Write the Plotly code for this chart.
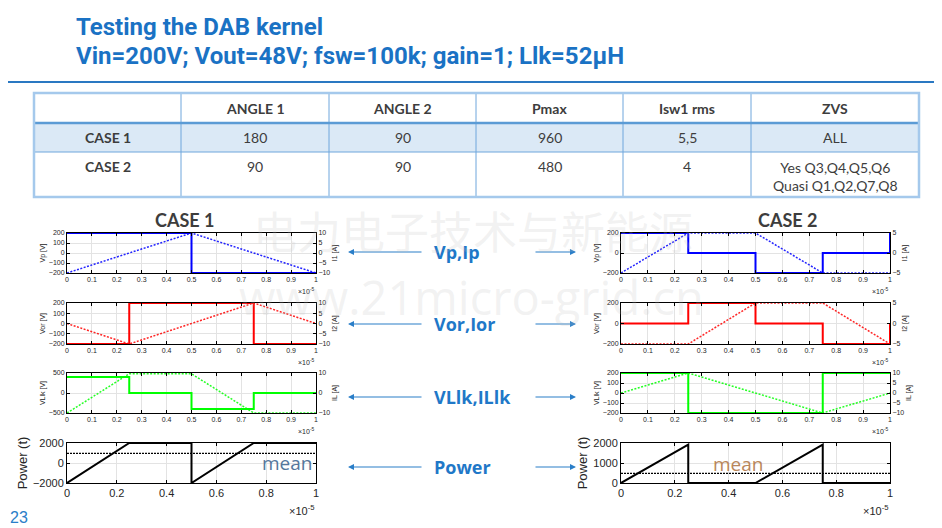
import plotly.graph_objects as go

# ---- data (time in units of 1e-5 s) ----
# CASE 1
t1_vp = [0, 0.5, 0.5, 1]
c1_vp = [200, 200, -200, -200]
t1_ip = [0, 0.5, 1]
c1_ip = [-10, 10, -10]
t1_vor = [0, 0.25, 0.25, 0.75, 0.75, 1]
c1_vor = [-200, -200, 200, 200, -200, -200]
t1_ior = [0, 0.25, 0.75, 1]
c1_ior = [0, -10, 10, 0]
t1_vl = [0, 0.25, 0.25, 0.5, 0.5, 0.75, 0.75, 1]
c1_vl = [400, 400, 0, 0, -400, -400, 0, 0]
t1_il = [0, 0.25, 0.5, 0.75, 1]
c1_il = [-10, 9.6, 9.6, -10, -10]
t1_p = [0, 0.25, 0.5, 0.5, 0.75, 1]
c1_p = [-2000, 2000, 2000, -2000, 2000, 2000]
c1_mean = 960

# CASE 2
t2_vp = [0, 0.25, 0.25, 0.5, 0.5, 0.75, 0.75, 1, 1]
c2_vp = [200, 200, 0, 0, -200, -200, 0, 0, 200]
t2_ip = [0, 0.25, 0.5, 0.75, 1]
c2_ip = [-5, 5, 5, -5, -5]
t2_vor = [0, 0.25, 0.25, 0.5, 0.5, 0.75, 0.75, 1, 1]
c2_vor = [0, 0, 200, 200, 0, 0, -200, -200, 0]
t2_ior = [0, 0.25, 0.5, 0.75, 1]
c2_ior = [-5, -5, 5, 5, -5]
t2_vl = [0, 0.25, 0.25, 0.75, 0.75, 1]
c2_vl = [200, 200, -200, -200, 200, 200]
t2_il = [0, 0.25, 0.75, 1]
c2_il = [0, 10, -10, 0]
t2_p = [0, 0.25, 0.25, 0.5, 0.75, 0.75, 1]
c2_p = [0, 1920, 0, 0, 1920, 0, 0]
c2_mean = 480

# table
table_cols = ["", "ANGLE 1", "ANGLE 2", "Pmax", "Isw1 rms", "ZVS"]
case_names = ["CASE 1", "CASE 2"]
angle1 = ["180", "90"]
angle2 = ["90", "90"]
pmax = ["960", "480"]
isw1_rms = ["5,5", "4"]
zvs = ["ALL", "Yes Q3,Q4,Q5,Q6<br>Quasi Q1,Q2,Q7,Q8"]

signal_labels = ["Vp,Ip", "Vor,Ior", "VLlk,ILlk", "Power"]

W, H = 942, 528
OFF = 8  # page margin of the html body
BLUE = "#1a72c4"
GRID = "#e3e3e3"
TICKC = "#262626"


def fx(x):
    return (x - OFF) / W


def fy(y):
    return 1 - (y - OFF) / H


def note(x, y, text, size, color, family, xa="center", ya="middle"):
    return dict(x=fx(x), y=fy(y), xref="paper", yref="paper", xanchor=xa, yanchor=ya,
                showarrow=False, text=text, font=dict(size=size, color=color, family=family))


COLS = {"left": (67, 316), "right": (621, 890)}
ROWS = [(233, 273), (303, 344), (373, 413), (443, 483)]

panels = [
    dict(col="left", row=0, t=t1_vp, v=c1_vp, td=t1_ip, vd=c1_ip, color="#0000ff",
         yr=[-200, 200], yt=[-200, -100, 0, 100, 200], y2r=[-10, 10], y2t=[-10, -5, 0, 5, 10],
         ytitle="Vp [V]", y2title="I1 [A]"),
    dict(col="left", row=1, t=t1_vor, v=c1_vor, td=t1_ior, vd=c1_ior, color="#ff0000",
         yr=[-200, 200], yt=[-200, -100, 0, 100, 200], y2r=[-10, 10], y2t=[-10, -5, 0, 5, 10],
         ytitle="Vor [V]", y2title="I2 [A]"),
    dict(col="left", row=2, t=t1_vl, v=c1_vl, td=t1_il, vd=c1_il, color="#00ff00",
         yr=[-500, 500], yt=[-500, 0, 500], y2r=[-10, 10], y2t=[-10, 0, 10],
         ytitle="VLlk [V]", y2title="IL [A]"),
    dict(col="left", row=3, t=t1_p, v=c1_p, mean=c1_mean, color="#000000",
         yr=[-2000, 2000], yt=[-2000, 0, 2000], ytitle="Power (t)"),
    dict(col="right", row=0, t=t2_vp, v=c2_vp, td=t2_ip, vd=c2_ip, color="#0000ff",
         yr=[-200, 200], yt=[-200, 0, 200], y2r=[-5, 5], y2t=[-5, 0, 5],
         ytitle="Vp [V]", y2title="I1 [A]"),
    dict(col="right", row=1, t=t2_vor, v=c2_vor, td=t2_ior, vd=c2_ior, color="#ff0000",
         yr=[-200, 200], yt=[-200, 0, 200], y2r=[-5, 5], y2t=[-5, 0, 5],
         ytitle="Vor [V]", y2title="I2 [A]"),
    dict(col="right", row=2, t=t2_vl, v=c2_vl, td=t2_il, vd=c2_il, color="#00ff00",
         yr=[-200, 200], yt=[-200, -100, 0, 100, 200], y2r=[-10, 10], y2t=[-10, -5, 0, 5, 10],
         ytitle="VLlk [V]", y2title="IL [A]"),
    dict(col="right", row=3, t=t2_p, v=c2_p, mean=c2_mean, color="#000000",
         yr=[0, 2000], yt=[0, 1000, 2000], ytitle="Power (t)"),
]

fig = go.Figure()
layout = {}
annotations = []
shapes = []

for i, p in enumerate(panels):
    k = i + 1
    xa = "x" if k == 1 else f"x{k}"
    ya1 = 2 * k - 1
    ya2 = 2 * k
    ya1_ref = "y" if ya1 == 1 else f"y{ya1}"
    x0, x1 = COLS[p["col"]]
    y0, y1 = ROWS[p["row"]]
    power = p["row"] == 3
    tf = 11 if power else 7
    fig.add_trace(go.Scatter(x=p["t"], y=p["v"], mode="lines", xaxis=xa, yaxis=ya1_ref,
                             line=dict(color=p["color"], width=2), showlegend=False))
    if power:
        fig.add_trace(go.Scatter(x=[0, 1], y=[p["mean"], p["mean"]], mode="lines",
                                 xaxis=xa, yaxis=ya1_ref, showlegend=False,
                                 line=dict(color="#000000", width=1.4, dash="2px,1px")))
    else:
        fig.add_trace(go.Scatter(x=p["td"], y=p["vd"], mode="lines", xaxis=xa,
                                 yaxis=f"y{ya2}", showlegend=False, opacity=0.85,
                                 line=dict(color=p["color"], width=1.5, dash="2px,1.5px")))
    xname = "xaxis" if k == 1 else f"xaxis{k}"
    xt = [0, 0.2, 0.4, 0.6, 0.8, 1] if power else [round(0.1 * j, 1) for j in range(11)]
    layout[xname] = dict(domain=[fx(x0), fx(x1)], anchor=ya1_ref, range=[0, 1],
                         automargin=False,
                         tickvals=xt, ticktext=[f"{v:g}" for v in xt],
                         showgrid=True, gridcolor=GRID, zeroline=False,
                         showline=True, linecolor="#000000", linewidth=1, mirror="ticks",
                         ticks="inside", ticklen=3, tickcolor="#000000",
                         tickfont=dict(size=tf, color=TICKC, family="Liberation Sans"))
    yname = "yaxis" if ya1 == 1 else f"yaxis{ya1}"
    layout[yname] = dict(domain=[fy(y1), fy(y0)], anchor=xa, range=p["yr"], tickvals=p["yt"],
                         automargin=False,
                         showgrid=True, gridcolor=GRID, zeroline=False,
                         showline=True, linecolor="#000000", linewidth=1,
                         mirror="ticks" if power else True,
                         ticks="inside", ticklen=3, tickcolor="#000000",
                         tickfont=dict(size=tf, color=TICKC, family="Liberation Sans"),
                         title=dict(text=p["ytitle"], standoff=2,
                                    font=dict(size=13 if power else 7, color=TICKC,
                                              family="Liberation Sans")))
    if not power:
        layout[f"yaxis{ya2}"] = dict(overlaying=ya1_ref, side="right", anchor=xa,
                                     automargin=False,
                                     range=p["y2r"], tickvals=p["y2t"], showgrid=False,
                                     zeroline=False, showline=True, linecolor="#000000",
                                     ticks="inside", ticklen=3, tickcolor="#000000",
                                     tickfont=dict(size=7, color=TICKC, family="Liberation Sans"),
                                     title=dict(text=p["y2title"], standoff=2,
                                                font=dict(size=7, color=TICKC,
                                                          family="Liberation Sans")))
    # x exponent label
    off = 27 if power else 18
    annotations.append(note(x1 + 1, y1 + off, "×10<sup>-5</sup>", 11 if power else 7,
                            TICKC, "Liberation Sans", xa="right"))

# "mean" labels
annotations.append(note(260, 463, "mean", 19, "#55779c", "Open Sans", xa="left"))
annotations.append(note(711, 464, "mean", 19, "#b9865a", "Open Sans", xa="left"))

# titles
annotations.append(note(74, 27, "<b>Testing the DAB kernel</b>", 24, BLUE,
                        "Liberation Sans Narrow, Roboto", xa="left"))
annotations.append(note(74, 56, "<b>Vin=200V; Vout=48V; fsw=100k; gain=1; Llk=52μH</b>", 24,
                        BLUE, "Liberation Sans Narrow, Roboto", xa="left"))
shapes.append(dict(type="line", xref="paper", yref="paper", x0=0, x1=1, y0=fy(82), y1=fy(82),
                   line=dict(color="#2a78c2", width=2)))

# table
col_edges = [34, 181, 329, 476, 623, 751, 919]
row_edges = [93, 123, 152, 197]
shapes.append(dict(type="rect", xref="paper", yref="paper", x0=fx(34), x1=fx(919),
                   y0=fy(152), y1=fy(123), fillcolor="#dbe9f6", line=dict(width=0), layer="below"))
for xe in col_edges[1:-1]:
    shapes.append(dict(type="line", xref="paper", yref="paper", x0=fx(xe), x1=fx(xe),
                       y0=fy(197), y1=fy(93), line=dict(color="#6fa6dc", width=1)))
shapes.append(dict(type="line", xref="paper", yref="paper", x0=fx(34), x1=fx(919),
                   y0=fy(123), y1=fy(123), line=dict(color="#5b9bd5", width=2.5)))
shapes.append(dict(type="line", xref="paper", yref="paper", x0=fx(34), x1=fx(919),
                   y0=fy(152), y1=fy(152), line=dict(color="#6fa6dc", width=1)))
shapes.append(dict(type="rect", xref="paper", yref="paper", x0=fx(34), x1=fx(919),
                   y0=fy(197), y1=fy(93), line=dict(color="#a5c9ec", width=2.5)))

TXT = "#3d3d3d"
for j, name in enumerate(table_cols):
    if name:
        xc = (col_edges[j] + col_edges[j + 1]) / 2
        annotations.append(note(xc, 108, f"<b>{name}</b>", 14, TXT, "Lato"))
row_vals = [angle1, angle2, pmax, isw1_rms, zvs]
for r, cname in enumerate(case_names):
    yc = 137 if r == 0 else 166
    annotations.append(note((col_edges[0] + col_edges[1]) / 2, yc, f"<b>{cname}</b>", 14,
                            TXT, "Lato"))
    for j, vals in enumerate(row_vals):
        xc = (col_edges[j + 1] + col_edges[j + 2]) / 2
        txt = vals[r]
        if "<br>" in txt:
            annotations.append(note(xc, yc - 9, txt, 14, TXT, "Lato", ya="top"))
        else:
            annotations.append(note(xc, yc, txt, 14, TXT, "Lato"))

# case headers
annotations.append(note(184, 220, "<b>CASE 1</b>", 18, "#3d3d3d", "Lato"))
annotations.append(note(787, 220, "<b>CASE 2</b>", 18, "#3d3d3d", "Lato"))

# middle labels and arrows
label_y = [252, 324, 397, 467]
for lab, ly in zip(signal_labels, label_y):
    annotations.append(note(432, ly, f"<b>{lab}</b>", 18, "#1f78c8", "Open Sans", xa="left"))
    annotations.append(dict(x=fx(348), y=fy(ly), xref="paper", yref="paper", text="",
                            showarrow=True, ax=75, ay=0, arrowhead=2, arrowsize=1,
                            arrowwidth=1.2, arrowcolor="#2a7ec8"))
    annotations.append(dict(x=fx(576), y=fy(ly), xref="paper", yref="paper", text="",
                            showarrow=True, ax=-42, ay=0, arrowhead=2, arrowsize=1,
                            arrowwidth=1.2, arrowcolor="#2a7ec8"))

# watermark
annotations.append(note(473, 230, "电力电子技术与新能源", 44, "rgba(190,190,190,0.2)",
                        "Noto Sans CJK SC"))
annotations.append(note(471, 297, "www.21micro-grid.cn", 47, "rgba(190,190,190,0.2)",
                        "Open Sans"))

# page number
annotations.append(note(OFF, 517, "23", 16, "#2a7ec8", "Liberation Sans", xa="left"))

fig.update_layout(**layout)
fig.update_layout(width=W, height=H, margin=dict(l=0, r=0, t=0, b=0, pad=0),
                  paper_bgcolor="white", plot_bgcolor="white",
                  annotations=annotations, shapes=shapes, showlegend=False)

fig.write_html("out.html")
